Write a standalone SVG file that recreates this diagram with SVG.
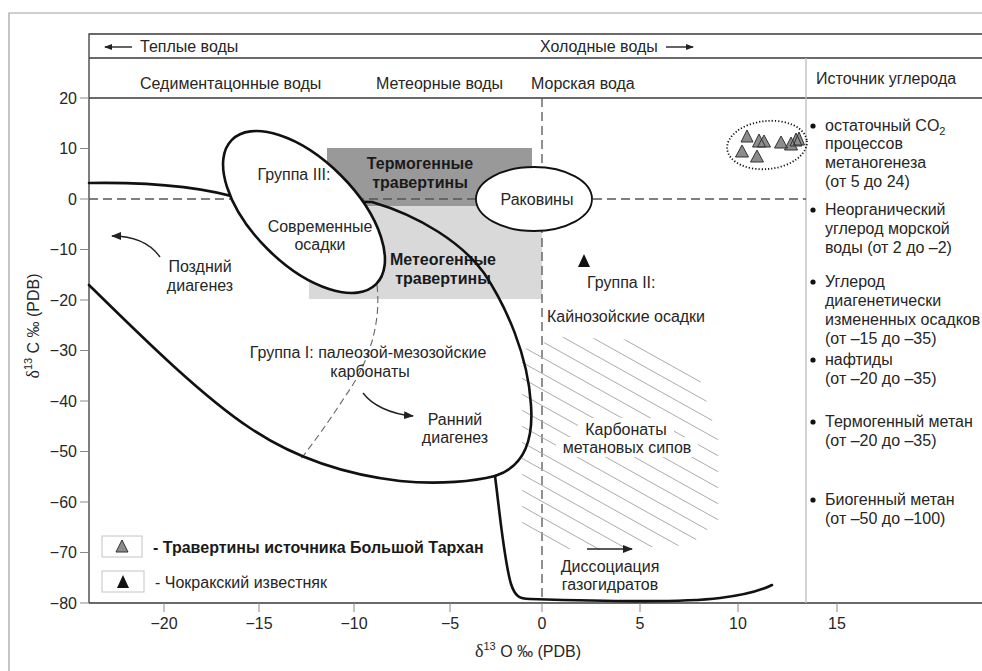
<svg xmlns="http://www.w3.org/2000/svg" width="982" height="671" viewBox="0 0 982 671">
<style>
text{font-family:"Liberation Sans",Arial,sans-serif;font-size:16px;fill:#262626}
.b{font-weight:bold;fill:#1a1a1a}
.m{text-anchor:middle}
.e{text-anchor:end}
.ax{stroke:#3a3a3a;stroke-width:1.3;fill:none}
.tk{stroke:#888;stroke-width:1;fill:none}
.cv{stroke:#111;stroke-width:2.6;fill:none;stroke-linecap:round;stroke-linejoin:round}
.dsh{stroke:#555;stroke-width:1.3;stroke-dasharray:9 5;fill:none}
.thin{stroke:#666;stroke-width:1.1;stroke-dasharray:7 4;fill:none}
.ht{stroke:#ababab;stroke-width:1}
.arr{stroke:#222;stroke-width:1.4;fill:none}
.tri{fill:#8c8c8c;stroke:#333;stroke-width:1}
.lg{fill:#fff;stroke:#c4c4c4;stroke-width:1}
</style>
<defs>
<marker id="ah" markerWidth="10" markerHeight="8" refX="9" refY="4" orient="auto" markerUnits="userSpaceOnUse">
<path d="M0,0 L10,4 L0,8 z" fill="#222"/>
</marker>
<marker id="ahs" markerWidth="8" markerHeight="6" refX="7" refY="3" orient="auto" markerUnits="userSpaceOnUse">
<path d="M0,0 L8,3 L0,6 z" fill="#222"/>
</marker>
<clipPath id="hc">
<polygon points="522,350 560,337 640,340 700,380 718,440 718,520 690,545 600,550 540,548 522,530"/>
</clipPath>
</defs>
<rect x="0" y="0" width="982" height="671" fill="#fff"/>
<g id="frame">
<path d="M9,671 L9,13 L982,13" fill="none" stroke="#a0a0a0" stroke-width="1.2"/>
<path class="ax" d="M89,603 L89,34 L982,34 M89,58 L982,58 M89,98 L982,98 M89,603 L982,603"/>
<line x1="806" y1="58" x2="806" y2="603" stroke="#bdbdbd" stroke-width="1.3"/>
</g>
<g id="header">
<line class="arr" x1="132" y1="47" x2="105" y2="47" marker-end="url(#ahs)"/>
<text x="140" y="52">Теплые воды</text>
<text x="540" y="52">Холодные воды</text>
<line class="arr" x1="666" y1="47" x2="693" y2="47" marker-end="url(#ahs)"/>
<text x="140" y="89">Седиментацонные воды</text>
<text x="376" y="89">Метеорные воды</text>
<text x="531" y="89">Морская вода</text>
<text x="816" y="84">Источник углерода</text>
</g>
<g id="yaxis">
<path class="tk" d="M80,98H89M80,148.5H89M80,199H89M80,249.5H89M80,300H89M80,350.5H89M80,401H89M80,451.5H89M80,502H89M80,552.5H89M80,603H89"/>
<text class="e" x="77" y="104">20</text>
<text class="e" x="77" y="154">10</text>
<text class="e" x="77" y="205">0</text>
<text class="e" x="77" y="255">−10</text>
<text class="e" x="77" y="306">−20</text>
<text class="e" x="77" y="356">−30</text>
<text class="e" x="77" y="407">−40</text>
<text class="e" x="77" y="457">−50</text>
<text class="e" x="77" y="508">−60</text>
<text class="e" x="77" y="558">−70</text>
<text class="e" x="77" y="609">−80</text>
<text transform="translate(39,326) rotate(-90)" class="m"><tspan font-family="Liberation Serif" font-size="18">δ</tspan><tspan font-size="11" dy="-7">13</tspan><tspan dy="7"> C ‰ (PDB)</tspan></text>
</g>
<g id="xaxis">
<path class="tk" d="M164,603V612M259,603V612M354,603V612M450,603V612M542,603V612M640,603V612M738,603V612M837,603V612"/>
<text class="m" x="164" y="629">−20</text>
<text class="m" x="259" y="629">−15</text>
<text class="m" x="354" y="629">−10</text>
<text class="m" x="450" y="629">−5</text>
<text class="m" x="542" y="629">0</text>
<text class="m" x="640" y="629">5</text>
<text class="m" x="738" y="629">10</text>
<text class="m" x="837" y="629">15</text>
<text x="475" y="657"><tspan font-family="Liberation Serif" font-size="18">δ</tspan><tspan font-size="11" dy="-7">13</tspan><tspan dy="7"> O ‰ (PDB)</tspan></text>
</g>
<g id="travertine-fields">
<rect x="327" y="148" width="205" height="58" fill="#999"/>
<rect x="309" y="206" width="233" height="93" fill="#d9d9d9"/>
<text class="b m" x="420" y="169">Термогенные</text>
<text class="b m" x="420" y="188">травертины</text>
<text class="b m" x="443" y="265">Метеогенные</text>
<text class="b m" x="443" y="284">травертины</text>
</g>
<g id="connectors">
<line class="dsh" x1="89" y1="199" x2="806" y2="199"/>
<line class="dsh" x1="542" y1="98" x2="542" y2="603"/>
<g clip-path="url(#hc)">
<path class="ht" d="M500,206l240,134M500,222l240,134M500,238l240,134M500,254l240,134M500,270l240,134M500,286l240,134M500,302l240,134M500,318l240,134M500,334l240,134M500,350l240,134M500,366l240,134M500,382l240,134M500,398l240,134M500,414l240,134M500,430l240,134M500,446l240,134M500,462l240,134M500,478l240,134M500,494l240,134M500,510l240,134M500,526l240,134M500,542l240,134M500,558l240,134"/>
</g>
<rect x="578" y="418" width="96" height="20" fill="#fff"/>
<rect x="556" y="437" width="142" height="20" fill="#fff"/>
<path class="thin" d="M377,285 C381,320 371,360 346,395 C330,420 312,445 300,460"/>
<path class="cv" d="M89,183 C150,182 205,187 245,200 L372,202 C420,216 462,243 484,273 C506,306 528,355 531,405 C534,447 520,468 495,476"/>
<path class="cv" d="M89,285 C135,330 200,395 250,428 C290,455 340,474 400,481 C440,485 475,481 495,476"/>
<path class="cv" d="M495,476 C500,515 504,560 511,584 C515,596 519,599 530,599 C600,601 680,603 720,598 C745,595 760,591 772,585"/>
<path class="arr" d="M160,257 C150,243 135,236 112,236" marker-end="url(#ah)"/>
<path class="arr" d="M363,393 C372,405 390,414 413,416" marker-end="url(#ah)"/>
<line class="arr" x1="587" y1="549" x2="632" y2="549" marker-end="url(#ah)"/>
</g>
<g id="group3">
<ellipse cx="304" cy="212" rx="102" ry="52" transform="rotate(45 304 212)" fill="#fff" stroke="#111" stroke-width="2.6"/>
<text class="m" x="294" y="180">Группа III:</text>
<text class="m" x="320" y="232">Современные</text>
<text class="m" x="320" y="250">осадки</text>
</g>
<g id="shells">
<ellipse cx="534" cy="199" rx="58" ry="32" fill="#fff" stroke="#111" stroke-width="1.8"/>
<text class="m" x="537" y="205">Раковины</text>
</g>
<g id="labels">
<text class="m" x="200" y="272">Поздний</text>
<text class="m" x="200" y="291">диагенез</text>
<text class="m" x="368" y="358">Группа I: палеозой-мезозойские</text>
<text class="m" x="370" y="377">карбонаты</text>
<text class="m" x="455" y="425">Ранний</text>
<text class="m" x="455" y="443">диагенез</text>
<text x="587" y="288">Группа II:</text>
<text x="547" y="322">Кайнозойские осадки</text>
<text class="m" x="626" y="435">Карбонаты</text>
<text class="m" x="627" y="453">метановых сипов</text>
<text class="m" x="610" y="572">Диссоциация</text>
<text class="m" x="610" y="590">газогидратов</text>
</g>
<g id="bolshoy-tarkhan">
<ellipse cx="767" cy="145" rx="40" ry="24" transform="rotate(-6 767 145)" fill="none" stroke="#111" stroke-width="1.8" stroke-dasharray="1.2 2"/>
<path class="tri" d="M747,130l6,12h-12z M759,134l6.5,13h-13z M764,135l6.5,12h-13z M742,145l6.5,12h-13z M757,150l6.5,12h-13z M781,136l6.5,12h-13z M791,137l6.5,13h-13z M796,133l6,13h-12z M799,132l5.5,13h-11z"/>
</g>
<g id="chokrak">
<path d="M584,254l6,13h-12z" fill="#111"/>
</g>
<g id="carbon-sources">
<circle cx="813" cy="126" r="2.6" fill="#111"/>
<text x="825" y="131">остаточный CO<tspan font-size="11" dy="4">2</tspan></text>
<text x="825" y="149">процессов</text>
<text x="825" y="168">метаногенеза</text>
<text x="825" y="187">(от 5 до 24)</text>
<circle cx="813" cy="210" r="2.6" fill="#111"/>
<text x="825" y="215">Неорганический</text>
<text x="825" y="234">углерод морской</text>
<text x="825" y="253">воды (от 2 до –2)</text>
<circle cx="813" cy="282" r="2.6" fill="#111"/>
<text x="825" y="287">Углерод</text>
<text x="825" y="306">диагенетически</text>
<text x="825" y="325">измененных осадков</text>
<text x="825" y="344">(от –15 до –35)</text>
<circle cx="813" cy="360" r="2.6" fill="#111"/>
<text x="825" y="365">нафтиды</text>
<text x="825" y="384">(от –20 до –35)</text>
<circle cx="813" cy="422" r="2.6" fill="#111"/>
<text x="825" y="427">Термогенный метан</text>
<text x="825" y="446">(от –20 до –35)</text>
<circle cx="813" cy="500" r="2.6" fill="#111"/>
<text x="825" y="505">Биогенный метан</text>
<text x="825" y="524">(от –50 до –100)</text>
</g>
<g id="legend">
<rect class="lg" x="102" y="536" width="40" height="21"/>
<path class="tri" d="M122,540l6,12h-12z"/>
<text class="b" x="153" y="553">- Травертины источника Большой Тархан</text>
<rect class="lg" x="102" y="571" width="42" height="21"/>
<path d="M123,575l6,13h-12z" fill="#111"/>
<text x="155" y="588">- Чокракский известняк</text>
</g>
</svg>
